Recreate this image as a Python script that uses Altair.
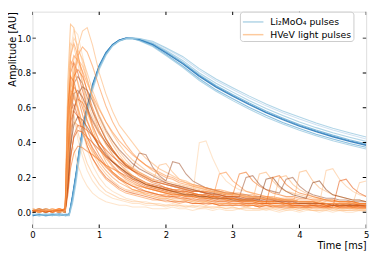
import altair as alt
import pandas as pd

# ---------------- data ----------------
X_DOMAIN = [0, 5]
Y_DOMAIN = [-0.09, 1.152]
X_TICKS = [0, 1, 2, 3, 4, 5]
Y_TICKS = [0.0, 0.2, 0.4, 0.6, 0.8, 1.0]

LMO_LABEL = "Li₂MoO₄ pulses"
HVEV_LABEL = "HVeV light pulses"

LMO_TIME = [0.0, 0.1, 0.2, 0.3, 0.4, 0.5, 0.55, 0.6, 0.65, 0.7, 0.75, 0.8,
            0.9, 1.0, 1.1, 1.2, 1.3, 1.4, 1.5, 1.6, 1.8, 2.0,
            2.25, 2.5, 2.75, 3.0, 3.25, 3.5, 3.75, 4.0, 4.25, 4.5, 4.75, 5.0]

LMO_1 = [-0.01, -0.02, -0.01, -0.02, -0.01, -0.02, -0.02, 0.05, 0.16, 0.30, 0.42, 0.53,
         0.70, 0.82, 0.90, 0.955, 0.985, 0.998, 1.0, 0.998, 0.982, 0.945,
         0.895, 0.825, 0.765, 0.715, 0.667, 0.622, 0.582, 0.547, 0.513, 0.483, 0.457, 0.432]
LMO_2 = [-0.01, -0.015, -0.02, -0.01, -0.015, -0.01, -0.015, 0.06, 0.18, 0.32, 0.44, 0.54,
         0.71, 0.825, 0.905, 0.958, 0.986, 0.998, 1.0, 0.997, 0.978, 0.94,
         0.885, 0.815, 0.755, 0.705, 0.656, 0.611, 0.571, 0.535, 0.502, 0.472, 0.446, 0.421]
LMO_3 = [-0.015, -0.01, -0.015, -0.02, -0.01, -0.015, -0.01, 0.08, 0.20, 0.34, 0.46, 0.56,
         0.72, 0.83, 0.91, 0.96, 0.986, 0.998, 1.0, 0.996, 0.972, 0.93,
         0.872, 0.80, 0.741, 0.69, 0.641, 0.596, 0.556, 0.519, 0.486, 0.457, 0.431, 0.407]
LMO_4 = [-0.02, -0.015, -0.01, -0.015, -0.02, -0.015, -0.01, 0.09, 0.21, 0.35, 0.47, 0.57,
         0.73, 0.84, 0.915, 0.962, 0.988, 0.999, 1.0, 0.994, 0.968, 0.923,
         0.862, 0.79, 0.728, 0.677, 0.628, 0.582, 0.542, 0.504, 0.472, 0.443, 0.417, 0.394]
LMO_5 = [-0.015, -0.02, -0.015, -0.01, -0.015, -0.02, -0.01, 0.10, 0.22, 0.36, 0.48, 0.58,
         0.735, 0.845, 0.918, 0.964, 0.99, 1.0, 0.999, 0.992, 0.964, 0.918,
         0.856, 0.784, 0.722, 0.67, 0.621, 0.575, 0.535, 0.498, 0.466, 0.437, 0.411, 0.388]
LMO_6 = [-0.02, -0.015, -0.02, -0.015, -0.01, -0.015, -0.015, 0.09, 0.21, 0.35, 0.47, 0.57,
         0.73, 0.84, 0.915, 0.963, 0.989, 1.0, 0.998, 0.99, 0.962, 0.915,
         0.852, 0.78, 0.718, 0.666, 0.617, 0.571, 0.531, 0.494, 0.462, 0.433, 0.407, 0.384]
LMO_7 = [-0.01, -0.02, -0.015, -0.01, -0.02, -0.01, -0.015, 0.07, 0.19, 0.33, 0.45, 0.55,
         0.715, 0.83, 0.905, 0.955, 0.982, 0.995, 0.996, 0.985, 0.952, 0.90,
         0.832, 0.757, 0.695, 0.641, 0.592, 0.546, 0.507, 0.471, 0.44, 0.411, 0.386, 0.363]
LMO_8 = [-0.015, -0.01, -0.02, -0.015, -0.01, -0.02, -0.01, 0.08, 0.20, 0.34, 0.46, 0.56,
         0.72, 0.835, 0.91, 0.958, 0.984, 0.996, 0.997, 0.988, 0.957, 0.907,
         0.84, 0.767, 0.703, 0.652, 0.602, 0.557, 0.516, 0.481, 0.448, 0.421, 0.395, 0.373]

LMO_COLORS = ["#9ecae1", "#c6dbef", "#9ecae1", "#6baed6", "#4292c6", "#2171b5", "#9ecae1", "#6baed6"]

HVEV_TIME = [0.0, 0.1, 0.2, 0.3, 0.4, 0.49,
             0.53, 0.57, 0.62, 0.68, 0.75, 0.82, 0.9,
             1.0, 1.1, 1.2, 1.3, 1.4, 1.5, 1.6, 1.7, 1.8, 1.9,
             2.0, 2.1, 2.2, 2.3, 2.4, 2.5, 2.6, 2.7, 2.8, 2.9,
             3.0, 3.1, 3.2, 3.3, 3.4, 3.5, 3.6, 3.7, 3.8, 3.9,
             4.0, 4.1, 4.2, 4.3, 4.4, 4.5, 4.6, 4.7, 4.8, 4.9,
             5.0]

HVEV_01 = [0.01, 0.0, 0.02, 0.01, 0.0, 0.02,
           0.75, 1.08, 1.06, 0.92, 0.74, 0.60, 0.48,
           0.37, 0.29, 0.23, 0.19, 0.16, 0.13, 0.12, 0.10, 0.09, 0.08,
           0.08, 0.07, 0.06, 0.07, 0.06, 0.05, 0.06, 0.05, 0.04, 0.05,
           0.04, 0.05, 0.04, 0.04, 0.03, 0.04, 0.03, 0.04, 0.03, 0.03,
           0.03, 0.02, 0.03, 0.03, 0.02, 0.03, 0.02, 0.02, 0.03, 0.02,
           0.02]
HVEV_02 = [0.0, 0.01, 0.01, 0.02, 0.0, 0.01,
           0.55, 0.92, 1.05, 1.02, 0.90, 0.77, 0.65,
           0.53, 0.43, 0.36, 0.30, 0.25, 0.21, 0.18, 0.16, 0.14, 0.13,
           0.12, 0.11, 0.10, 0.10, 0.10, 0.40, 0.41, 0.31, 0.23, 0.18,
           0.15, 0.13, 0.12, 0.11, 0.10, 0.09, 0.08, 0.08, 0.07, 0.07,
           0.06, 0.06, 0.05, 0.06, 0.05, 0.05, 0.04, 0.05, 0.04, 0.04,
           0.04]
HVEV_03 = [0.01, 0.02, 0.0, 0.01, 0.01, 0.0,
           0.30, 0.55, 0.78, 0.95, 1.04, 1.06, 0.96,
           0.80, 0.68, 0.58, 0.50, 0.45, 0.40, 0.35, 0.31, 0.28, 0.25,
           0.23, 0.21, 0.19, 0.18, 0.16, 0.15, 0.14, 0.13, 0.12, 0.11,
           0.11, 0.10, 0.09, 0.09, 0.08, 0.08, 0.07, 0.07, 0.07, 0.06,
           0.06, 0.06, 0.05, 0.05, 0.05, 0.05, 0.04, 0.04, 0.04, 0.04,
           0.04]
HVEV_04 = [0.01, 0.01, 0.0, 0.01, 0.02, 0.01,
           0.60, 0.90, 0.97, 0.90, 0.80, 0.69, 0.58,
           0.47, 0.39, 0.33, 0.28, 0.24, 0.21, 0.19, 0.17, 0.15, 0.14,
           0.13, 0.12, 0.11, 0.10, 0.10, 0.09, 0.09, 0.08, 0.08, 0.07,
           0.07, 0.07, 0.06, 0.06, 0.06, 0.05, 0.05, 0.05, 0.05, 0.04,
           0.04, 0.04, 0.04, 0.04, 0.03, 0.04, 0.03, 0.03, 0.03, 0.03,
           0.03]
HVEV_05 = [0.0, 0.01, 0.01, 0.0, 0.01, 0.01,
           0.35, 0.68, 0.88, 0.93, 0.88, 0.80, 0.70,
           0.60, 0.52, 0.45, 0.39, 0.34, 0.30, 0.27, 0.24, 0.22, 0.20,
           0.18, 0.17, 0.16, 0.15, 0.14, 0.13, 0.12, 0.12, 0.11, 0.10,
           0.10, 0.09, 0.09, 0.08, 0.08, 0.08, 0.07, 0.07, 0.07, 0.06,
           0.06, 0.06, 0.06, 0.05, 0.05, 0.05, 0.05, 0.04, 0.05, 0.04,
           0.04]
HVEV_06 = [0.01, 0.0, 0.01, 0.01, 0.0, 0.01,
           0.50, 0.80, 0.86, 0.80, 0.70, 0.60, 0.50,
           0.41, 0.34, 0.29, 0.25, 0.22, 0.19, 0.17, 0.15, 0.14, 0.13,
           0.12, 0.11, 0.10, 0.10, 0.09, 0.09, 0.08, 0.08, 0.07, 0.07,
           0.07, 0.06, 0.06, 0.06, 0.05, 0.05, 0.05, 0.05, 0.04, 0.04,
           0.04, 0.04, 0.04, 0.04, 0.03, 0.04, 0.03, 0.03, 0.04, 0.03,
           0.03]
HVEV_07 = [0.01, 0.01, 0.0, 0.01, 0.01, 0.0,
           0.30, 0.60, 0.74, 0.78, 0.74, 0.66, 0.58,
           0.50, 0.42, 0.36, 0.31, 0.27, 0.25, 0.34, 0.33, 0.26, 0.21,
           0.18, 0.29, 0.28, 0.22, 0.18, 0.16, 0.14, 0.13, 0.12, 0.11,
           0.11, 0.10, 0.10, 0.09, 0.09, 0.08, 0.08, 0.07, 0.07, 0.07,
           0.06, 0.06, 0.06, 0.05, 0.05, 0.05, 0.05, 0.05, 0.04, 0.04,
           0.04]
HVEV_08 = [0.02, 0.01, 0.01, 0.0, 0.01, 0.02,
           0.50, 0.70, 0.68, 0.58, 0.47, 0.38, 0.31,
           0.24, 0.19, 0.16, 0.13, 0.11, 0.10, 0.09, 0.08, 0.07, 0.07,
           0.06, 0.06, 0.05, 0.06, 0.05, 0.05, 0.04, 0.05, 0.04, 0.04,
           0.04, 0.04, 0.03, 0.04, 0.03, 0.03, 0.03, 0.03, 0.02, 0.03,
           0.02, 0.03, 0.02, 0.02, 0.02, 0.03, 0.02, 0.02, 0.02, 0.02,
           0.02]
HVEV_09 = [0.01, 0.0, 0.01, 0.02, 0.01, 0.01,
           0.20, 0.45, 0.60, 0.65, 0.63, 0.58, 0.52,
           0.45, 0.40, 0.35, 0.31, 0.28, 0.25, 0.23, 0.21, 0.19, 0.18,
           0.17, 0.16, 0.15, 0.14, 0.13, 0.12, 0.12, 0.11, 0.11, 0.10,
           0.10, 0.22, 0.23, 0.18, 0.15, 0.13, 0.11, 0.10, 0.09, 0.09,
           0.08, 0.08, 0.07, 0.07, 0.07, 0.06, 0.06, 0.06, 0.05, 0.05,
           0.05]
HVEV_10 = [0.0, 0.01, 0.02, 0.01, 0.01, 0.0,
           0.45, 0.62, 0.55, 0.42, 0.32, 0.24, 0.18,
           0.13, 0.10, 0.08, 0.07, 0.06, 0.05, 0.05, 0.04, 0.04, 0.04,
           0.03, 0.04, 0.03, 0.03, 0.03, 0.02, 0.03, 0.02, 0.03, 0.02,
           0.02, 0.02, 0.03, 0.02, 0.02, 0.01, 0.02, 0.02, 0.01, 0.02,
           0.01, 0.02, 0.01, 0.01, 0.02, 0.01, 0.01, 0.01, 0.02, 0.01,
           0.01]
HVEV_11 = [0.01, 0.01, 0.01, 0.0, 0.02, 0.01,
           0.30, 0.52, 0.58, 0.55, 0.49, 0.43, 0.37,
           0.31, 0.26, 0.22, 0.19, 0.17, 0.15, 0.13, 0.12, 0.11, 0.10,
           0.09, 0.09, 0.08, 0.08, 0.07, 0.07, 0.07, 0.06, 0.06, 0.06,
           0.05, 0.05, 0.05, 0.05, 0.04, 0.05, 0.04, 0.04, 0.04, 0.04,
           0.04, 0.03, 0.04, 0.03, 0.03, 0.04, 0.03, 0.03, 0.03, 0.03,
           0.03]
HVEV_12 = [0.01, 0.02, 0.01, 0.01, 0.0, 0.01,
           0.25, 0.46, 0.52, 0.50, 0.45, 0.40, 0.35,
           0.30, 0.26, 0.23, 0.20, 0.18, 0.16, 0.15, 0.14, 0.13, 0.12,
           0.11, 0.11, 0.10, 0.10, 0.09, 0.09, 0.08, 0.08, 0.08, 0.07,
           0.07, 0.07, 0.06, 0.06, 0.06, 0.06, 0.05, 0.20, 0.21, 0.16,
           0.13, 0.11, 0.09, 0.08, 0.07, 0.07, 0.06, 0.06, 0.06, 0.05,
           0.05]
HVEV_13 = [0.0, 0.01, 0.01, 0.01, 0.0, 0.01,
           0.15, 0.32, 0.43, 0.47, 0.46, 0.43, 0.40,
           0.36, 0.32, 0.29, 0.26, 0.23, 0.21, 0.19, 0.17, 0.16, 0.15,
           0.14, 0.13, 0.12, 0.12, 0.11, 0.10, 0.10, 0.09, 0.09, 0.08,
           0.08, 0.08, 0.07, 0.07, 0.07, 0.06, 0.06, 0.06, 0.06, 0.05,
           0.05, 0.05, 0.05, 0.05, 0.04, 0.05, 0.04, 0.04, 0.04, 0.04,
           0.04]
HVEV_14 = [0.01, 0.01, 0.0, 0.02, 0.01, 0.01,
           0.32, 0.42, 0.36, 0.27, 0.20, 0.15, 0.11,
           0.08, 0.06, 0.05, 0.04, 0.04, 0.03, 0.03, 0.03, 0.02, 0.02,
           0.02, 0.03, 0.02, 0.02, 0.01, 0.02, 0.02, 0.01, 0.02, 0.01,
           0.01, 0.02, 0.01, 0.01, 0.01, 0.02, 0.01, 0.0, 0.01, 0.01,
           0.0, 0.01, 0.01, 0.0, 0.01, 0.0, 0.01, 0.0, 0.0, 0.01,
           0.0]
HVEV_15 = [0.01, 0.0, 0.01, 0.01, 0.02, 0.01,
           0.62, 0.87, 0.84, 0.74, 0.63, 0.53, 0.45,
           0.37, 0.31, 0.26, 0.22, 0.19, 0.17, 0.15, 0.14, 0.13, 0.12,
           0.11, 0.10, 0.10, 0.09, 0.09, 0.08, 0.08, 0.08, 0.22, 0.23,
           0.18, 0.15, 0.12, 0.11, 0.10, 0.09, 0.08, 0.08, 0.07, 0.07,
           0.06, 0.06, 0.06, 0.05, 0.05, 0.05, 0.05, 0.04, 0.04, 0.04,
           0.04]
HVEV_16 = [0.0, 0.01, 0.01, 0.01, 0.01, 0.02,
           0.40, 0.72, 0.80, 0.75, 0.66, 0.57, 0.49,
           0.41, 0.35, 0.30, 0.26, 0.23, 0.20, 0.18, 0.16, 0.15, 0.14,
           0.13, 0.12, 0.11, 0.11, 0.10, 0.10, 0.09, 0.09, 0.08, 0.08,
           0.08, 0.07, 0.07, 0.07, 0.22, 0.23, 0.18, 0.14, 0.12, 0.11,
           0.10, 0.09, 0.08, 0.08, 0.07, 0.07, 0.06, 0.06, 0.06, 0.05,
           0.05]
HVEV_17 = [0.01, 0.01, 0.02, 0.01, 0.0, 0.01,
           0.25, 0.55, 0.68, 0.70, 0.66, 0.60, 0.53,
           0.46, 0.40, 0.35, 0.31, 0.27, 0.24, 0.22, 0.20, 0.18, 0.17,
           0.16, 0.15, 0.14, 0.13, 0.12, 0.12, 0.11, 0.10, 0.10, 0.09,
           0.09, 0.09, 0.20, 0.21, 0.16, 0.13, 0.12, 0.11, 0.19, 0.20,
           0.15, 0.12, 0.10, 0.09, 0.08, 0.08, 0.07, 0.07, 0.06, 0.06,
           0.06]
HVEV_18 = [0.01, 0.01, 0.01, 0.0, 0.01, 0.01,
           0.55, 0.74, 0.70, 0.60, 0.50, 0.41, 0.34,
           0.27, 0.22, 0.18, 0.15, 0.13, 0.12, 0.11, 0.10, 0.09, 0.08,
           0.08, 0.07, 0.07, 0.07, 0.06, 0.06, 0.06, 0.05, 0.05, 0.05,
           0.05, 0.05, 0.04, 0.05, 0.04, 0.04, 0.04, 0.04, 0.04, 0.03,
           0.23, 0.24, 0.18, 0.14, 0.12, 0.10, 0.09, 0.08, 0.07, 0.07,
           0.06]
HVEV_19 = [0.02, 0.01, 0.0, 0.01, 0.01, 0.01,
           0.70, 0.97, 0.95, 0.85, 0.74, 0.64, 0.55,
           0.46, 0.39, 0.33, 0.28, 0.24, 0.21, 0.19, 0.17, 0.15, 0.14,
           0.13, 0.12, 0.11, 0.10, 0.10, 0.09, 0.09, 0.08, 0.08, 0.08,
           0.07, 0.07, 0.07, 0.06, 0.06, 0.06, 0.06, 0.05, 0.05, 0.05,
           0.05, 0.05, 0.05, 0.05, 0.24, 0.25, 0.19, 0.15, 0.12, 0.10,
           0.09]
HVEV_20 = [0.01, 0.0, 0.01, 0.01, 0.01, 0.0,
           0.10, 0.25, 0.34, 0.38, 0.37, 0.35, 0.33,
           0.30, 0.27, 0.25, 0.23, 0.21, 0.19, 0.18, 0.16, 0.15, 0.14,
           0.13, 0.12, 0.12, 0.11, 0.10, 0.10, 0.09, 0.09, 0.08, 0.08,
           0.08, 0.07, 0.07, 0.07, 0.06, 0.06, 0.06, 0.06, 0.05, 0.05,
           0.05, 0.05, 0.05, 0.05, 0.04, 0.04, 0.04, 0.04, 0.04, 0.04,
           0.04]
HVEV_21 = [0.01, 0.01, 0.01, 0.02, 0.0, 0.01,
           0.45, 0.88, 1.00, 0.96, 0.86, 0.76, 0.66,
           0.56, 0.48, 0.41, 0.35, 0.30, 0.26, 0.23, 0.21, 0.19, 0.17,
           0.16, 0.15, 0.14, 0.13, 0.12, 0.12, 0.11, 0.10, 0.10, 0.09,
           0.09, 0.09, 0.08, 0.08, 0.08, 0.07, 0.07, 0.07, 0.06, 0.06,
           0.06, 0.06, 0.06, 0.05, 0.05, 0.05, 0.05, 0.05, 0.05, 0.17,
           0.18]
HVEV_22 = [0.01, 0.01, 0.0, 0.01, 0.01, 0.01,
           0.35, 0.58, 0.62, 0.55, 0.46, 0.38, 0.31,
           0.25, 0.20, 0.17, 0.14, 0.12, 0.11, 0.10, 0.09, 0.08, 0.07,
           0.07, 0.06, 0.06, 0.06, 0.05, 0.05, 0.05, 0.05, 0.04, 0.04,
           0.04, 0.04, 0.04, 0.04, 0.03, 0.04, 0.03, 0.03, 0.03, 0.03,
           0.03, 0.03, 0.03, 0.03, 0.03, 0.03, 0.18, 0.19, 0.14, 0.11,
           0.09]
HVEV_23 = [0.0, 0.01, 0.01, 0.01, 0.02, 0.01,
           0.50, 0.83, 0.90, 0.87, 0.81, 0.74, 0.67,
           0.59, 0.52, 0.46, 0.41, 0.37, 0.33, 0.30, 0.27, 0.25, 0.23,
           0.21, 0.20, 0.18, 0.17, 0.16, 0.15, 0.14, 0.13, 0.13, 0.12,
           0.11, 0.11, 0.10, 0.10, 0.09, 0.09, 0.09, 0.08, 0.08, 0.08,
           0.07, 0.07, 0.07, 0.07, 0.06, 0.06, 0.06, 0.06, 0.06, 0.05,
           0.05]
HVEV_24 = [0.01, 0.02, 0.01, 0.01, 0.01, 0.0,
           0.15, 0.38, 0.50, 0.55, 0.53, 0.49, 0.44,
           0.38, 0.33, 0.29, 0.26, 0.23, 0.20, 0.18, 0.16, 0.15, 0.14,
           0.13, 0.12, 0.11, 0.10, 0.10, 0.09, 0.09, 0.08, 0.08, 0.08,
           0.07, 0.07, 0.07, 0.07, 0.07, 0.19, 0.20, 0.15, 0.12, 0.10,
           0.09, 0.08, 0.17, 0.18, 0.13, 0.10, 0.09, 0.08, 0.07, 0.07,
           0.06]
HVEV_25 = [0.01, 0.0, 0.01, 0.01, 0.01, 0.01,
           0.65, 0.85, 0.78, 0.62, 0.47, 0.36, 0.27,
           0.20, 0.15, 0.12, 0.10, 0.08, 0.07, 0.06, 0.06, 0.05, 0.05,
           0.04, 0.05, 0.04, 0.04, 0.03, 0.04, 0.03, 0.03, 0.03, 0.03,
           0.03, 0.02, 0.03, 0.02, 0.02, 0.02, 0.03, 0.02, 0.02, 0.02,
           0.02, 0.02, 0.01, 0.02, 0.02, 0.01, 0.02, 0.01, 0.01, 0.02,
           0.01]
HVEV_26 = [0.01, 0.01, 0.01, 0.01, 0.01, 0.01,
           0.40, 0.66, 0.72, 0.68, 0.60, 0.52, 0.45,
           0.38, 0.32, 0.27, 0.23, 0.20, 0.18, 0.16, 0.14, 0.13, 0.12,
           0.11, 0.10, 0.10, 0.09, 0.09, 0.08, 0.08, 0.07, 0.07, 0.07,
           0.06, 0.06, 0.06, 0.06, 0.05, 0.05, 0.05, 0.05, 0.05, 0.04,
           0.04, 0.04, 0.04, 0.04, 0.04, 0.04, 0.03, 0.04, 0.03, 0.03,
           0.03]
HVEV_27 = [0.01, 0.02, 0.01, 0.0, 0.01, 0.01,
           0.20, 0.50, 0.75, 0.90, 0.95, 0.92, 0.84,
           0.72, 0.61, 0.52, 0.45, 0.39, 0.34, 0.30, 0.27, 0.24, 0.22,
           0.20, 0.19, 0.17, 0.16, 0.15, 0.14, 0.13, 0.12, 0.12, 0.11,
           0.10, 0.10, 0.09, 0.09, 0.08, 0.08, 0.08, 0.07, 0.07, 0.07,
           0.06, 0.06, 0.06, 0.06, 0.05, 0.05, 0.05, 0.05, 0.05, 0.04,
           0.04]
HVEV_28 = [0.0, 0.01, 0.01, 0.01, 0.0, 0.01,
           0.30, 0.62, 0.78, 0.82, 0.78, 0.70, 0.60,
           0.50, 0.42, 0.36, 0.31, 0.27, 0.24, 0.21, 0.19, 0.17, 0.16,
           0.14, 0.13, 0.13, 0.12, 0.11, 0.10, 0.10, 0.09, 0.09, 0.08,
           0.08, 0.07, 0.07, 0.07, 0.06, 0.06, 0.06, 0.06, 0.05, 0.05,
           0.05, 0.05, 0.04, 0.05, 0.04, 0.04, 0.04, 0.04, 0.03, 0.04,
           0.03]
HVEV_29 = [0.01, 0.01, 0.0, 0.01, 0.01, 0.01,
           0.15, 0.38, 0.58, 0.68, 0.72, 0.70, 0.64,
           0.55, 0.47, 0.41, 0.36, 0.32, 0.28, 0.25, 0.23, 0.21, 0.19,
           0.17, 0.16, 0.15, 0.14, 0.13, 0.12, 0.11, 0.11, 0.10, 0.09,
           0.09, 0.08, 0.08, 0.08, 0.07, 0.07, 0.07, 0.06, 0.06, 0.06,
           0.05, 0.05, 0.05, 0.05, 0.05, 0.04, 0.04, 0.04, 0.04, 0.04,
           0.04]
HVEV_30 = [0.01, 0.0, 0.01, 0.01, 0.02, 0.01,
           0.40, 0.62, 0.66, 0.60, 0.51, 0.43, 0.36,
           0.29, 0.24, 0.20, 0.17, 0.15, 0.13, 0.12, 0.11, 0.10, 0.09,
           0.09, 0.08, 0.08, 0.07, 0.07, 0.06, 0.06, 0.06, 0.05, 0.05,
           0.05, 0.05, 0.04, 0.04, 0.04, 0.04, 0.04, 0.03, 0.04, 0.03,
           0.03, 0.03, 0.03, 0.03, 0.03, 0.02, 0.03, 0.03, 0.02, 0.02,
           0.02]
HVEV_31 = [0.01, 0.01, 0.01, 0.0, 0.01, 0.01,
           0.12, 0.30, 0.44, 0.50, 0.49, 0.47, 0.44,
           0.40, 0.36, 0.32, 0.29, 0.26, 0.24, 0.22, 0.20, 0.18, 0.17,
           0.16, 0.15, 0.14, 0.13, 0.12, 0.12, 0.11, 0.10, 0.10, 0.09,
           0.09, 0.09, 0.08, 0.08, 0.08, 0.07, 0.07, 0.07, 0.06, 0.06,
           0.06, 0.06, 0.06, 0.05, 0.05, 0.05, 0.05, 0.05, 0.05, 0.04,
           0.04]
HVEV_32 = [0.01, 0.01, 0.02, 0.01, 0.01, 0.0,
           0.25, 0.60, 0.82, 0.88, 0.84, 0.76, 0.66,
           0.55, 0.46, 0.39, 0.33, 0.28, 0.25, 0.22, 0.20, 0.18, 0.27,
           0.28, 0.23, 0.19, 0.17, 0.15, 0.14, 0.13, 0.12, 0.11, 0.11,
           0.10, 0.10, 0.09, 0.09, 0.08, 0.08, 0.08, 0.07, 0.07, 0.07,
           0.06, 0.06, 0.06, 0.06, 0.05, 0.05, 0.05, 0.05, 0.05, 0.05,
           0.04]
HVEV_33 = [0.02, 0.01, 0.01, 0.01, 0.0, 0.01,
           0.45, 0.60, 0.56, 0.46, 0.36, 0.28, 0.22,
           0.16, 0.12, 0.10, 0.08, 0.07, 0.06, 0.06, 0.05, 0.05, 0.04,
           0.04, 0.04, 0.04, 0.03, 0.04, 0.03, 0.03, 0.03, 0.03, 0.02,
           0.03, 0.02, 0.02, 0.02, 0.02, 0.02, 0.02, 0.01, 0.02, 0.02,
           0.01, 0.02, 0.01, 0.01, 0.01, 0.02, 0.01, 0.01, 0.01, 0.01,
           0.01]
HVEV_34 = [0.01, 0.01, 0.0, 0.01, 0.01, 0.02,
           0.60, 0.78, 0.75, 0.66, 0.56, 0.47, 0.40,
           0.33, 0.27, 0.23, 0.20, 0.17, 0.15, 0.14, 0.12, 0.11, 0.10,
           0.10, 0.09, 0.09, 0.08, 0.08, 0.07, 0.07, 0.07, 0.06, 0.06,
           0.06, 0.06, 0.05, 0.05, 0.05, 0.05, 0.20, 0.21, 0.16, 0.13,
           0.11, 0.10, 0.09, 0.08, 0.07, 0.07, 0.06, 0.06, 0.06, 0.05,
           0.05]

HVEV_COLORS = ["#fdbe85", "#fdd0a2", "#fdae6b", "#fd8d3c", "#fdae6b", "#e6550d",
               "#a0522d", "#fd8d3c", "#f16913", "#fdd0a2", "#e6550d", "#fdae6b",
               "#d94801", "#fdd0a2", "#fd8d3c", "#fdae6b", "#a0522d", "#fdae6b",
               "#fdbe85", "#f16913", "#fdbe85", "#e6550d", "#fd8d3c", "#8c3a0f",
               "#fdd0a2", "#f16913", "#fd8d3c", "#f16913", "#a0522d", "#fd8d3c",
               "#e6550d", "#fdae6b", "#fdbe85", "#f16913"]

# ---------------- assemble tables ----------------
LMO_SERIES = [LMO_1, LMO_2, LMO_3, LMO_4, LMO_5, LMO_6, LMO_7, LMO_8]
HVEV_SERIES = [HVEV_01, HVEV_02, HVEV_03, HVEV_04, HVEV_05, HVEV_06, HVEV_07,
               HVEV_08, HVEV_09, HVEV_10, HVEV_11, HVEV_12, HVEV_13, HVEV_14,
               HVEV_15, HVEV_16, HVEV_17, HVEV_18, HVEV_19, HVEV_20, HVEV_21,
               HVEV_22, HVEV_23, HVEV_24, HVEV_25, HVEV_26, HVEV_27, HVEV_28,
               HVEV_29, HVEV_30, HVEV_31, HVEV_32, HVEV_33, HVEV_34]


def table(series_list, times, prefix, series_label):
    rows = []
    for k, ys in enumerate(series_list):
        assert len(ys) == len(times), (prefix, k, len(ys))
        for t, a in zip(times, ys):
            rows.append({"t": t, "amp": a, "curve": f"{prefix}{k:02d}", "series": series_label})
    return pd.DataFrame(rows)


lmo_df = table(LMO_SERIES, LMO_TIME, "L", LMO_LABEL)
hvev_df = table(HVEV_SERIES, HVEV_TIME, "H", HVEV_LABEL)
lmo_names = sorted(lmo_df["curve"].unique())
hvev_names = sorted(hvev_df["curve"].unique())

blue_df = lmo_df[lmo_df["curve"] != lmo_names[0]]
orange_df = hvev_df[hvev_df["curve"] != hvev_names[0]]
legend_df = pd.concat([lmo_df[lmo_df["curve"] == lmo_names[0]],
                       hvev_df[hvev_df["curve"] == hvev_names[0]]])

FONT = "DejaVu Sans"

x_enc = alt.X("t:Q", scale=alt.Scale(domain=X_DOMAIN, nice=False, zero=False),
              axis=alt.Axis(values=X_TICKS, format="d", ticks=False, domain=False, grid=False,
                            labelFlush=False, labelPadding=3, labelFontSize=8.6, labelFont=FONT,
                            labelColor="black", title="Time [ms]", titleAnchor="end",
                            titleFont=FONT, titleFontSize=10, titleFontWeight="normal",
                            titleColor="black", titlePadding=1))
y_enc = alt.Y("amp:Q", scale=alt.Scale(domain=Y_DOMAIN, nice=False, zero=False),
              axis=alt.Axis(values=Y_TICKS, format=".1f", ticks=False, domain=False, grid=False,
                            labelFlush=False, labelPadding=2, labelFontSize=8.6, labelFont=FONT,
                            labelColor="black", title="Amplitude [AU]",
                            titleX=-25, titleY=0, titleAngle=270, titleAlign="right",
                            titleBaseline="top",
                            titleFont=FONT, titleFontSize=10, titleFontWeight="normal",
                            titleColor="black"))

blue = alt.Chart(blue_df).mark_line(strokeWidth=1.1, opacity=0.8, clip=True).encode(
    x=x_enc, y=y_enc,
    color=alt.Color("curve:N", scale=alt.Scale(domain=lmo_names[1:], range=LMO_COLORS[1:]), legend=None),
)

legend_layer = alt.Chart(legend_df).mark_line(strokeWidth=1.1, opacity=0.8, clip=True).encode(
    x=x_enc, y=y_enc,
    color=alt.Color("series:N",
                    scale=alt.Scale(domain=[LMO_LABEL, HVEV_LABEL], range=[LMO_COLORS[0], HVEV_COLORS[0]]),
                    legend=alt.Legend(title=None, orient="none", legendX=212, legendY=0,
                                      symbolType="M-1.4,0L1.4,0", symbolSize=225,
                                      symbolStrokeWidth=1.5, symbolOpacity=0.8, symbolOffset=3,
                                      labelFont=FONT, labelFontSize=9.5, labelColor="black",
                                      labelOffset=9, padding=2, rowPadding=0,
                                      strokeColor="#cccccc", fillColor="white", cornerRadius=3)),
)

orange = alt.Chart(orange_df).mark_line(strokeWidth=1.1, opacity=0.55, clip=True).encode(
    x=x_enc, y=y_enc,
    color=alt.Color("curve:N", scale=alt.Scale(domain=hvev_names[1:], range=HVEV_COLORS[1:]), legend=None),
)

xt_df = pd.DataFrame({"t": X_TICKS * 2,
                      "amp": [Y_DOMAIN[0]] * len(X_TICKS) + [Y_DOMAIN[1]] * len(X_TICKS)})
yt_df = pd.DataFrame({"t": [X_DOMAIN[0]] * len(Y_TICKS) + [X_DOMAIN[1]] * len(Y_TICKS),
                      "amp": Y_TICKS * 2})
xticks = alt.Chart(xt_df).mark_tick(orient="vertical", size=7, thickness=1, color="black",
                                    opacity=1, clip=True).encode(x=x_enc, y=y_enc)
yticks = alt.Chart(yt_df).mark_tick(orient="horizontal", size=7, thickness=1, color="black",
                                    opacity=1, clip=True).encode(x=x_enc, y=y_enc)

chart = alt.layer(blue, legend_layer, orange, xticks, yticks).resolve_scale(
    color="independent"
).properties(
    width=341, height=221,
    autosize=alt.AutoSizeParams(type="none"),
    padding={"left": 25, "top": 1, "right": 8, "bottom": 29},
    background="white",
).configure_view(stroke="black", strokeWidth=1).configure(font=FONT)

chart.save("out.html", embed_options={"renderer": "svg", "actions": False})
